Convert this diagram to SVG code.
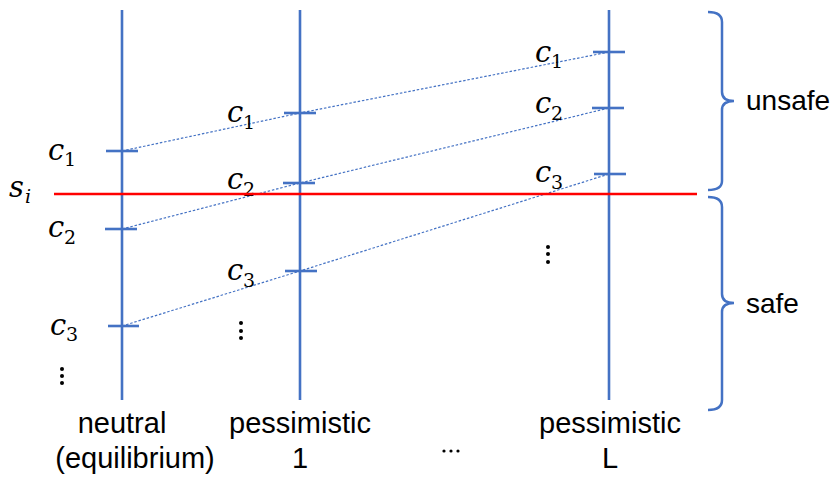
<svg xmlns="http://www.w3.org/2000/svg" width="837" height="479" viewBox="0 0 837 479">
<style>
.axis{stroke:#4472C4;stroke-width:2.6;fill:none}
.tick{stroke:#4472C4;stroke-width:2.6}
.conn{stroke:#4472C4;stroke-width:1.2;stroke-dasharray:2.5 1.8;fill:none}
.brace{stroke:#4472C4;stroke-width:2.5;fill:none}
.m{font-family:"DejaVu Serif",serif;font-style:italic;font-size:29px;fill:#000}
.sub{font-family:"DejaVu Serif",serif;font-size:19px;fill:#000}
.si{font-family:"DejaVu Serif",serif;font-style:italic;font-size:19px;fill:#000}
.t{font-family:"Liberation Sans",Arial,sans-serif;font-size:29px;fill:#000}
.r{font-family:"Liberation Sans",Arial,sans-serif;font-size:28px;fill:#000}
.dot{fill:#000}
</style>
<rect width="837" height="479" fill="#fff"/>
<g id="connectors">
<polyline class="conn" points="122,151 300,113 609,52"/>
<polyline class="conn" points="122,229 300,183 609,108"/>
<polyline class="conn" points="122,326 300,271 609,174"/>
</g>
<g id="axis-neutral">
<line class="axis" x1="122" y1="10" x2="122" y2="400"/>
<line class="tick" x1="106" y1="151" x2="138" y2="151"/>
<line class="tick" x1="105" y1="229" x2="137" y2="229"/>
<line class="tick" x1="108" y1="326" x2="139" y2="326"/>
<text class="m" x="48" y="160">c</text><text class="sub" x="64" y="166">1</text>
<text class="m" x="48" y="237">c</text><text class="sub" x="64" y="244">2</text>
<text class="m" x="50" y="335">c</text><text class="sub" x="66" y="341">3</text>
<circle class="dot" cx="62" cy="369" r="2"/><circle class="dot" cx="62" cy="376" r="2"/><circle class="dot" cx="62" cy="383" r="2"/>
<text class="t" x="122" y="433" text-anchor="middle">neutral</text>
<text class="t" x="135" y="468" text-anchor="middle">(equilibrium)</text>
</g>
<g id="axis-pessimistic-1">
<line class="axis" x1="300" y1="10" x2="300" y2="400"/>
<line class="tick" x1="284" y1="113" x2="316" y2="113"/>
<line class="tick" x1="283" y1="183" x2="315" y2="183"/>
<line class="tick" x1="285" y1="271" x2="317" y2="271"/>
<text class="m" x="227" y="122">c</text><text class="sub" x="243" y="129">1</text>
<text class="m" x="227" y="189">c</text><text class="sub" x="243" y="196">2</text>
<text class="m" x="227" y="280">c</text><text class="sub" x="243" y="287">3</text>
<circle class="dot" cx="241" cy="323" r="2"/><circle class="dot" cx="241" cy="331" r="2"/><circle class="dot" cx="241" cy="338" r="2"/>
<text class="t" x="300" y="433" text-anchor="middle">pessimistic</text>
<text class="t" x="300" y="468" text-anchor="middle">1</text>
</g>
<g id="ellipsis">
<circle class="dot" cx="444" cy="451" r="1.6"/><circle class="dot" cx="451" cy="451" r="1.6"/><circle class="dot" cx="458" cy="451" r="1.6"/>
</g>
<g id="axis-pessimistic-L">
<line class="axis" x1="609" y1="10" x2="609" y2="400"/>
<line class="tick" x1="593" y1="52" x2="625" y2="52"/>
<line class="tick" x1="592" y1="108" x2="624" y2="108"/>
<line class="tick" x1="594" y1="174" x2="626" y2="174"/>
<text class="m" x="535" y="62">c</text><text class="sub" x="551" y="68">1</text>
<text class="m" x="535" y="113">c</text><text class="sub" x="551" y="120">2</text>
<text class="m" x="535" y="182">c</text><text class="sub" x="551" y="189">3</text>
<circle class="dot" cx="548" cy="247" r="2"/><circle class="dot" cx="548" cy="254" r="2"/><circle class="dot" cx="548" cy="262" r="2"/>
<text class="t" x="610" y="433" text-anchor="middle">pessimistic</text>
<text class="t" x="610" y="468" text-anchor="middle">L</text>
</g>
<g id="threshold">
<line x1="54" y1="194" x2="697" y2="194" stroke="#FF0000" stroke-width="2.5"/>
<text class="m" x="9" y="197">s</text><text class="si" x="25" y="203">i</text>
</g>
<g id="brace-unsafe">
<path class="brace" d="M708,12 Q722,12 722,22 L722,92 Q722,101 734,101 Q722,101 722,110 L722,181 Q722,190 708,190"/>
<text class="r" x="746" y="110">unsafe</text>
</g>
<g id="brace-safe">
<path class="brace" d="M708,197 Q722,197 722,207 L722,294 Q722,303 734,303 Q722,303 722,312 L722,400 Q722,410 708,410"/>
<text class="r" x="746" y="313">safe</text>
</g>
</svg>
